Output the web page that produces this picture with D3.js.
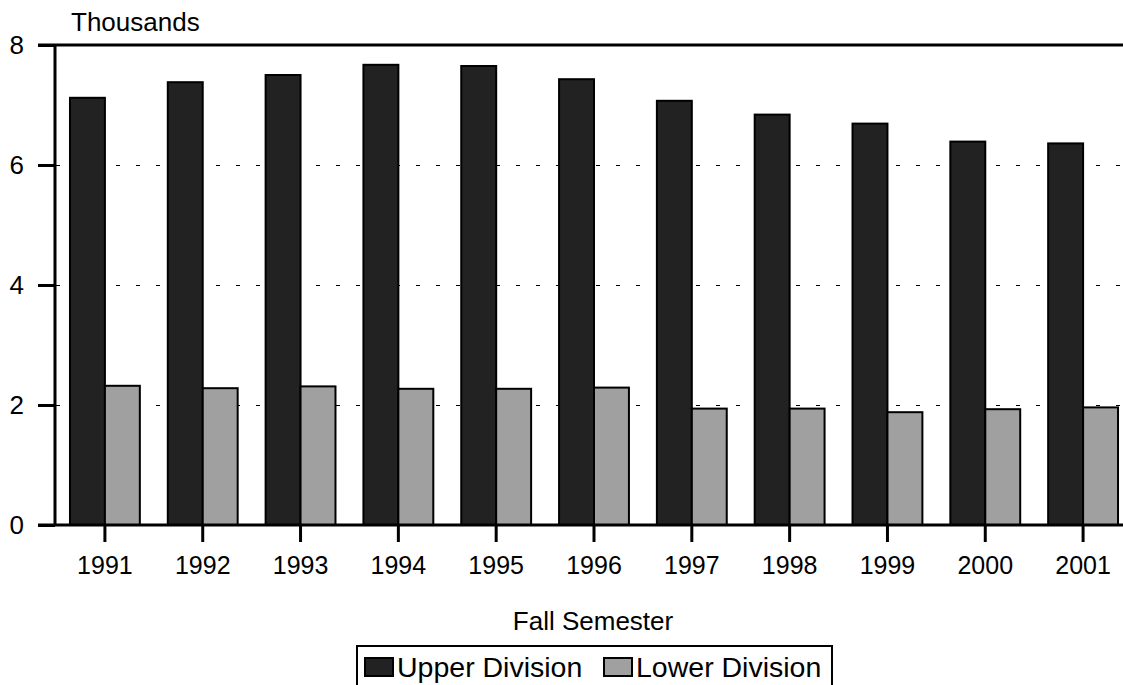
<!DOCTYPE html>
<html>
<head>
<meta charset="utf-8">
<script src="https://cdn.jsdelivr.net/npm/d3@7"></script>
<style>
  body { margin: 0; background: #fff; }
  text { font-family: "Liberation Sans", Arial, sans-serif; fill: #000; }
</style>
</head>
<body>
<div id="chart"></div>
<script>
// data (thousands of students)
var years = ["1991", "1992", "1993", "1994", "1995", "1996", "1997", "1998", "1999", "2000", "2001"];
var upperDivision = [7.12, 7.38, 7.50, 7.67, 7.65, 7.43, 7.07, 6.84, 6.69, 6.39, 6.36];
var lowerDivision = [2.32, 2.28, 2.31, 2.27, 2.27, 2.29, 1.94, 1.94, 1.88, 1.93, 1.96];
var seriesNames = ["Upper Division", "Lower Division"];
var seriesColors = ["#222222", "#a0a0a0"];
var yTicks = [0, 2, 4, 6, 8];

function Plot() {
    var svgWidth = 1123;
    var svgHeight = 685;

    var svg = d3.select("#chart")
        .append("svg")
        .attr("width", svgWidth)
        .attr("height", svgHeight);

    // rows for the grouped bars
    var rows = years.map(function(y, i) {
        return { year: y, values: [upperDivision[i], lowerDivision[i]] };
    });

    // scales
    var x0 = d3.scaleBand()
        .domain(years)
        .range([56, 1132])
        .paddingInner(2 / 7)
        .paddingOuter(1 / 7);

    var x1 = d3.scaleBand()
        .domain([0, 1])
        .range([0, x0.bandwidth()]);

    var y = d3.scaleLinear()
        .domain([0, 8])
        .range([525, 45]);

    // dashed grid lines
    svg.append("g")
        .selectAll("line")
        .data([2, 4, 6])
        .enter()
        .append("line")
        .attr("x1", 56)
        .attr("x2", svgWidth)
        .attr("y1", d => y(d) + 0.5)
        .attr("y2", d => y(d) + 0.5)
        .attr("stroke", "#000")
        .attr("stroke-width", 1)
        .attr("shape-rendering", "crispEdges")
        .attr("stroke-dasharray", "4,16");

    // bars
    var groups = svg.append("g")
        .selectAll("g")
        .data(rows)
        .enter()
        .append("g")
        .attr("transform", d => `translate(${x0(d.year)},0)`);

    groups.selectAll("rect")
        .data(d => d.values)
        .enter()
        .append("rect")
        .attr("x", (d, i) => x1(i))
        .attr("y", d => y(d))
        .attr("width", x1.bandwidth())
        .attr("height", d => y(0) - y(d))
        .attr("fill", (d, i) => seriesColors[i])
        .attr("stroke", "#000")
        .attr("stroke-width", 2);

    // top frame line at 8
    svg.append("line")
        .attr("x1", 38).attr("x2", svgWidth)
        .attr("y1", y(8)).attr("y2", y(8))
        .attr("stroke", "#000").attr("stroke-width", 3);

    // y axis
    var yAxis = d3.axisLeft(y)
        .tickValues(yTicks)
        .tickSize(17)
        .tickPadding(14)
        .tickFormat(d3.format("d"));

    var yg = svg.append("g")
        .attr("transform", "translate(55,0)")
        .call(yAxis);
    yg.select(".domain").remove();
    yg.selectAll(".tick line").attr("stroke-width", 3);
    yg.selectAll(".tick text")
        .attr("font-size", "26px")
        .attr("font-family", "Liberation Sans, Arial, sans-serif");

    svg.append("line")
        .attr("x1", 55).attr("x2", 55)
        .attr("y1", y(8)).attr("y2", y(0))
        .attr("stroke", "#000").attr("stroke-width", 3);

    // x axis
    var xAxis = d3.axisBottom(x0)
        .tickSize(17)
        .tickPadding(14);

    var xg = svg.append("g")
        .attr("transform", `translate(0,${y(0)})`)
        .call(xAxis);
    xg.select(".domain").remove();
    xg.selectAll(".tick line").attr("stroke-width", 3);
    xg.selectAll(".tick text")
        .attr("font-size", "25px")
        .attr("font-family", "Liberation Sans, Arial, sans-serif");

    svg.append("line")
        .attr("x1", 38).attr("x2", svgWidth)
        .attr("y1", y(0)).attr("y2", y(0))
        .attr("stroke", "#000").attr("stroke-width", 3);

    // titles
    svg.append("text")
        .attr("x", 71)
        .attr("y", 31)
        .attr("font-size", "26px")
        .text("Thousands");

    svg.append("text")
        .attr("x", 593)
        .attr("y", 630)
        .attr("text-anchor", "middle")
        .attr("font-size", "26px")
        .text("Fall Semester");

    // legend
    var legend = svg.append("g");
    legend.append("rect")
        .attr("x", 357).attr("y", 646)
        .attr("width", 475).attr("height", 60)
        .attr("fill", "none")
        .attr("stroke", "#000").attr("stroke-width", 2);

    var legendX = [365, 604];
    var items = legend.selectAll("g.item")
        .data(seriesNames)
        .enter()
        .append("g")
        .attr("class", "item")
        .attr("transform", (d, i) => `translate(${legendX[i]},658)`);

    items.append("rect")
        .attr("width", 28).attr("height", 18)
        .attr("fill", (d, i) => seriesColors[i])
        .attr("stroke", "#000").attr("stroke-width", 2);

    items.append("text")
        .attr("x", 32)
        .attr("y", 19)
        .attr("font-size", "28.5px")
        .text(d => d);
}

Plot();
</script>
</body>
</html>
